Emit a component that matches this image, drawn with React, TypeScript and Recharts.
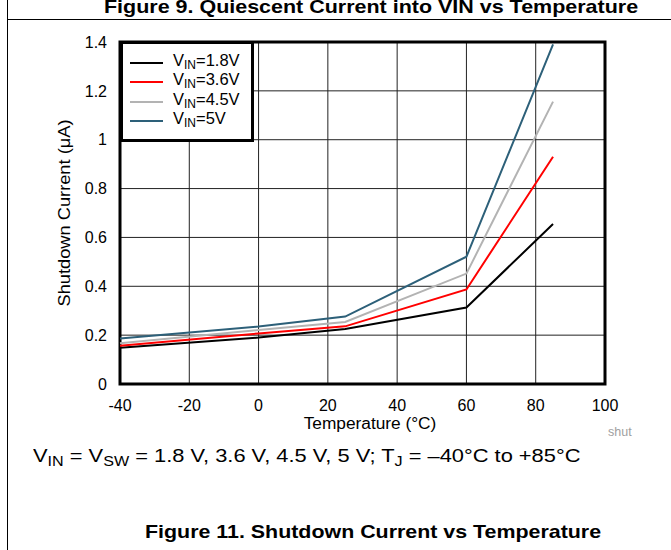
import React from 'react';
import { LineChart, Line, XAxis, YAxis, CartesianGrid, ReferenceArea } from 'recharts';

const temperatures = [-40, 0, 25, 60, 85];
const vin18 = [0.148, 0.19, 0.225, 0.313, 0.655];
const vin36 = [0.157, 0.207, 0.236, 0.387, 0.93];
const vin45 = [0.167, 0.221, 0.254, 0.452, 1.156];
const vin50 = [0.186, 0.235, 0.276, 0.521, 1.39];
const xTicks = [-40, -20, 0, 20, 40, 60, 80, 100];
const yTicks = [0, 0.2, 0.4, 0.6, 0.8, 1, 1.2, 1.4];

const seriesNames = ['1.8V', '3.6V', '4.5V', '5V'];
const seriesKeys = ['v18', 'v36', 'v45', 'v50'];
const seriesColors = ['#000000', '#ff0000', '#b3b3b3', '#2d6079'];

const data = temperatures.map((t, i) => ({
  t,
  v18: vin18[i],
  v36: vin36[i],
  v45: vin45[i],
  v50: vin50[i],
}));

const FONT = '"Liberation Sans", Arial, sans-serif';

const LegendBox = () => (
  <div
    style={{
      position: 'absolute',
      left: 120,
      top: 41,
      width: 134,
      height: 101,
      border: '3px solid #000',
      boxSizing: 'border-box',
      background: '#fff',
      fontFamily: FONT,
      fontSize: 16.5,
      paddingTop: 9,
      paddingLeft: 7,
    }}
  >
    {seriesNames.map((n, i) => (
      <div key={n} style={{ display: 'flex', alignItems: 'center', height: 19.5 }}>
        <div style={{ width: 33, height: 2, background: seriesColors[i], marginRight: 10 }} />
        <span style={{ lineHeight: '19px', whiteSpace: 'nowrap' }}>
          V<sub style={{ fontSize: 12, verticalAlign: '-3px' }}>IN</sub>={n}
        </span>
      </div>
    ))}
  </div>
);

const sub = (s: string) => <sub style={{ fontSize: 14, verticalAlign: '-4px' }}>{s}</sub>;

export default function App() {
  return (
    <div style={{ position: 'absolute', left: 0, top: 0, width: 671, height: 550, background: '#fff', overflow: 'hidden', fontFamily: FONT }}>
      <div style={{ position: 'absolute', left: 7, top: 0, width: 1, height: 550, background: '#000' }} />
      <div style={{ position: 'absolute', left: 7, top: 19, width: 664, height: 1, background: '#000' }} />
      <div style={{ position: 'absolute', left: 104, top: -4, fontWeight: 'bold', fontSize: 19, whiteSpace: 'nowrap', transform: 'scaleX(1.13)', transformOrigin: 'left center' }}>
        Figure 9. Quiescent Current into VIN vs Temperature
      </div>
      <div style={{ position: 'absolute', left: 0, top: 0 }}>
        <LineChart width={671} height={550} data={data} margin={{ top: 42, right: 66, bottom: 136, left: 0 }}>
          <CartesianGrid stroke="#222" strokeWidth={1} horizontalValues={yTicks} verticalValues={xTicks} />
          <XAxis
            dataKey="t"
            type="number"
            domain={[-40, 100]}
            ticks={xTicks}
            tickLine={false}
            axisLine={false}
            height={30}
            tick={{ fill: '#000', fontSize: 16, fontFamily: FONT }}
            tickMargin={10}
            interval={0}
          />
          <YAxis
            type="number"
            domain={[0, 1.4]}
            ticks={yTicks}
            tickLine={false}
            axisLine={false}
            width={120}
            tick={{ fill: '#000', fontSize: 16, fontFamily: FONT }}
            tickMargin={7}
            interval={0}
            tickFormatter={(v: number) => String(Math.round(v * 10) / 10)}
          />
          {seriesKeys.map((k, i) => (
            <Line key={k} dataKey={k} stroke={seriesColors[i]} strokeWidth={2} dot={false} isAnimationActive={false} />
          ))}
          <ReferenceArea x1={-40} x2={100} y1={0} y2={1.4} fill="none" stroke="#000" strokeWidth={3} />
        </LineChart>
      </div>
      <LegendBox />
      <div style={{ position: 'absolute', left: 65, top: 213, transform: 'translate(-50%, -50%) rotate(-90deg) scaleX(1.14)', whiteSpace: 'nowrap', fontSize: 16 }}>
        Shutdown Current (μA)
      </div>
      <div style={{ position: 'absolute', left: 370, top: 424, transform: 'translate(-50%, -50%) scaleX(1.08)', whiteSpace: 'nowrap', fontSize: 16 }}>
        Temperature (°C)
      </div>
      <div style={{ position: 'absolute', left: 608, top: 425, fontSize: 12.5, color: '#a0a0a0' }}>shut</div>
      <div style={{ position: 'absolute', left: 33, top: 445, fontSize: 19, whiteSpace: 'nowrap', transform: 'scaleX(1.15)', transformOrigin: 'left center' }}>
        V{sub('IN')} = V{sub('SW')} = 1.8 V, 3.6 V, 4.5 V, 5 V; T{sub('J')} = –40°C to +85°C
      </div>
      <div style={{ position: 'absolute', left: 145, top: 521, fontSize: 19, fontWeight: 'bold', whiteSpace: 'nowrap', transform: 'scaleX(1.126)', transformOrigin: 'left center' }}>
        Figure 11. Shutdown Current vs Temperature
      </div>
    </div>
  );
}
